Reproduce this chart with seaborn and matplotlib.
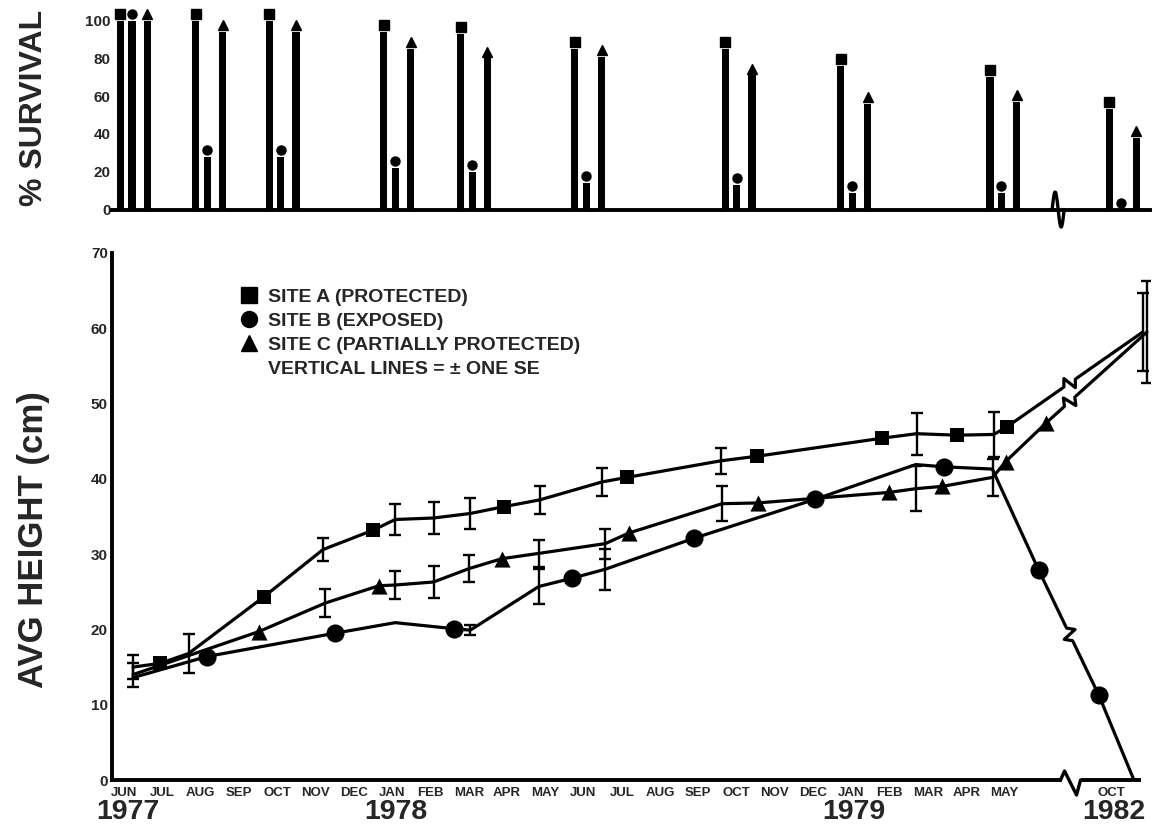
import numpy as np
import matplotlib
matplotlib.use("Agg")
import matplotlib.pyplot as plt
import matplotlib.transforms as mtransforms
from matplotlib.lines import Line2D
import seaborn as sns

# x is in months counted from 1 June 1977; the axis is broken after May 1979
month_names = ["JUN", "JUL", "AUG", "SEP", "OCT", "NOV", "DEC", "JAN", "FEB", "MAR", "APR", "MAY",
               "JUN", "JUL", "AUG", "SEP", "OCT", "NOV", "DEC", "JAN", "FEB", "MAR", "APR", "MAY",
               "OCT"]
month_pos = list(np.arange(24) + 0.5) + [26.3]
year_names = ["1977", "1978", "1979", "1982"]
year_pos = [0.6, 7.6, 19.55, 26.35]

# % survival (top panel)
surv_month = [0.70, 2.67, 4.59, 7.58, 9.59, 12.57, 16.50, 19.52, 23.42, 26.54]
surv_a = [100, 100, 100, 94, 93, 85, 85, 76, 70, 53]
surv_b = [100, 28, 28, 22, 20, 14, 13, 9, 9, 0]
surv_c = [100, 94, 94, 85, 80, 81, 71, 56, 57, 38]

# avg height (cm); marker = 1 where a symbol is drawn, se = 0 where no error bar
a_month = [0.73, 1.44, 2.18, 4.14, 5.69, 7.01, 7.58, 8.58, 9.54, 10.41, 11.35, 12.99, 13.64,
           16.09, 17.03, 20.30, 21.20, 22.25, 23.22, 23.56, 27.11]
a_height = [15.0, 15.5, 16.8, 24.3, 30.6, 33.2, 34.6, 34.8, 35.4, 36.3, 37.2, 39.6, 40.2,
            42.4, 43.0, 45.4, 46.0, 45.8, 45.9, 46.9, 59.5]
a_se = [1.6, 0, 2.6, 0, 1.5, 0, 2.0, 2.1, 2.0, 0, 1.9, 1.9, 0, 1.7, 0, 0, 2.8, 0, 3.0, 0, 5.2]
a_marker = [0, 1, 0, 1, 0, 1, 0, 0, 0, 1, 0, 0, 1, 0, 1, 1, 0, 1, 0, 1, 0]

b_month = [0.73, 2.66, 6.01, 7.58, 9.11, 9.54, 11.33, 12.20, 13.07, 15.38, 18.56, 21.18,
           21.91, 23.18, 24.39, 25.96, 26.88]
b_height = [13.6, 16.4, 19.5, 20.9, 20.1, 19.9, 25.7, 26.8, 28.0, 32.1, 37.3, 41.9,
            41.6, 41.3, 27.9, 11.3, 0.0]
b_se = [0, 0, 0, 0, 0, 0.7, 2.3, 0, 2.7, 0, 0, 0, 0, 0, 0, 0, 0]
b_marker = [0, 1, 1, 0, 1, 0, 0, 1, 0, 1, 1, 0, 1, 0, 1, 1, 0]

c_month = [0.73, 4.01, 5.75, 7.15, 7.58, 8.58, 9.52, 10.37, 11.33, 13.07, 13.68, 16.12,
           17.05, 20.48, 21.19, 21.87, 23.19, 23.53, 24.58, 27.22]
c_height = [14.0, 19.7, 23.5, 25.8, 25.9, 26.3, 28.1, 29.4, 30.1, 31.4, 32.8, 36.7,
            36.8, 38.2, 38.7, 39.0, 40.2, 42.3, 47.4, 59.5]
c_se = [1.6, 0, 1.9, 0, 1.8, 2.1, 1.8, 0, 1.8, 2.0, 0, 2.3, 0, 0, 3.0, 0, 2.5, 0, 0, 6.8]
c_marker = [0, 1, 0, 1, 0, 0, 0, 1, 0, 0, 1, 0, 1, 1, 0, 1, 0, 1, 1, 0]

break_month = 25.2
top_break_month = 24.9

sns.set_style("white")
plt.rcParams["font.family"] = ["Liberation Sans", "DejaVu Sans"]

W, H = 1163, 832
fig = plt.figure(figsize=(W / 100, H / 100), dpi=100)
x0, x1 = 0.18, 27.3
left, width = 112 / W, 1038 / W
ax = fig.add_axes([left, 1 - 780 / H, width, 527 / H])
axt = fig.add_axes([left, 1 - 209.5 / H, width, 108 * 1.888 / H])
ax.set_xlim(x0, x1)
ax.set_ylim(0, 70)
axt.set_xlim(x0, x1)
axt.set_ylim(0, 108)
ident = mtransforms.IdentityTransform()

# ---- bottom panel: heights
sites = [(a_month, a_height, a_se, a_marker, "s", 110),
         (b_month, b_height, b_se, b_marker, "o", 170),
         (c_month, c_height, c_se, c_marker, "^", 135)]
for mx, hy, se, mk, m, s in sites:
    mx, hy, se = np.array(mx), np.array(hy), np.array(se)
    mk = np.array(mk, bool)
    sns.lineplot(x=mx, y=hy, ax=ax, color="k", lw=2.3, estimator=None, sort=False, legend=False)
    sns.scatterplot(x=mx[mk], y=hy[mk], ax=ax, marker=m, s=s, color="k", edgecolor="k",
                    linewidth=0, zorder=4, legend=False)
    e = se > 0
    ax.errorbar(mx[e], hy[e], yerr=se[e], fmt="none", ecolor="k", elinewidth=1.7,
                capsize=4, capthick=1.7, zorder=3)
    # zigzag where the line crosses the time break
    yb = np.interp(break_month, mx, hy)
    y2 = np.interp(break_month + 0.3, mx, hy)
    p = ax.transData.transform([(break_month, yb), (break_month + 0.3, y2)])
    c = p[0]
    u = (p[1] - p[0]) / np.hypot(*(p[1] - p[0]))
    n = np.array([-u[1], u[0]])
    g, h = 7, 7
    wl = np.array([c - u * (g + 1), c + u * (g + 1)])
    zz = np.array([c - u * g, c - u * g * 0.3 + n * h, c + u * g * 0.3 - n * h, c + u * g])
    ax.plot(wl[:, 0], wl[:, 1], color="white", lw=5, transform=ident, zorder=5,
            solid_capstyle="butt", clip_on=False)
    ax.plot(zz[:, 0], zz[:, 1], color="k", lw=2.3, transform=ident, zorder=6, clip_on=False)

for s in ["top", "right"]:
    ax.spines[s].set_visible(False)
for s in ["left", "bottom"]:
    ax.spines[s].set_linewidth(2.8)
    ax.spines[s].set_color("k")
ax.spines["bottom"].set_bounds(x0, 27.0)

ax.set_yticks(range(0, 71, 10))
ax.set_yticklabels([str(v) for v in range(0, 71, 10)], fontsize=11, fontweight="bold")
ax.set_yticks(range(5, 70, 10), minor=True)
ax.tick_params(axis="y", which="both", direction="in", length=9.5, width=1.6, pad=3, color="k")
ax.set_xticks(month_pos)
ax.set_xticklabels(month_names, fontsize=9.5, fontweight="bold")
ax.set_xticks(np.arange(1, 25), minor=True)
ax.tick_params(axis="x", which="major", length=0, pad=5)
ax.tick_params(axis="x", which="minor", direction="in", length=10.5, width=1.6, color="k")
for name, xp in zip(year_names, year_pos):
    ax.text(xp, -0.061, name, transform=ax.get_xaxis_transform(), ha="center", va="center",
            fontsize=20.5, fontweight="bold")

# break on the x axis
c = ax.transData.transform((break_month + 0.05, 0))
ax.plot([c[0] - 10, c[0] + 9], [c[1], c[1]], color="white", lw=4.5, transform=ident,
        zorder=5, clip_on=False, solid_capstyle="butt")
bx = [c[0] - 11, c[0] - 7, c[0] + 5, c[0] + 9]
by = [c[1], c[1] + 9, c[1] - 15, c[1]]
ax.plot(bx, by, color="k", lw=2.4, transform=ident, zorder=6, clip_on=False)

handles = [Line2D([], [], ls="", marker="s", ms=11, color="k"),
           Line2D([], [], ls="", marker="o", ms=11.5, color="k"),
           Line2D([], [], ls="", marker="^", ms=12, color="k"),
           Line2D([], [], ls="", marker="")]
labels = ["SITE A (PROTECTED)", "SITE B (EXPOSED)", "SITE C (PARTIALLY PROTECTED)",
          "VERTICAL LINES = ± ONE SE"]
ax.legend(handles, labels, loc="upper left", bbox_to_anchor=(239 / W, 1 - 288 / H),
          bbox_transform=fig.transFigure, frameon=False, borderpad=0, borderaxespad=0,
          handlelength=1.0, handletextpad=0.5, labelspacing=0.33,
          prop={"weight": "bold", "size": 14})

# ---- top panel: survival bars
offsets = [-0.3, 0.0, 0.4]
lift = axt.transData + mtransforms.ScaledTranslation(0, 5 / 72, fig.dpi_scale_trans)
for off, vals, m, ms in zip(offsets, [surv_a, surv_b, surv_c], ["s", "o", "^"], [7, 6.5, 6.5]):
    xs = np.array(surv_month) + off
    axt.bar(xs, vals, width=0.19, color="k", linewidth=0)
    axt.plot(xs, vals, ls="", marker=m, ms=ms, color="k", transform=lift, clip_on=False)

for s in ["top", "right", "left"]:
    axt.spines[s].set_visible(False)
axt.spines["bottom"].set_linewidth(2.8)
axt.spines["bottom"].set_color("k")
axt.set_xticks([])
axt.set_yticks(range(0, 101, 20))
axt.set_yticklabels([str(v) for v in range(0, 101, 20)], fontsize=11, fontweight="bold")
axt.tick_params(axis="y", length=0, pad=1)

c = axt.transData.transform((top_break_month, 0))
t = np.linspace(0, 2 * np.pi, 40)
axt.plot(c[0] - 6 + 12 * t / (2 * np.pi), c[1] + 17.5 * np.sin(t), color="k", lw=2.4,
         transform=ident, clip_on=False)

fig.text(34 / W, 1 - 108 / H, "% SURVIVAL", rotation=90, ha="center", va="center",
         fontsize=23, fontweight="bold")
fig.text(34 / W, 1 - 540 / H, "AVG HEIGHT (cm)", rotation=90, ha="center", va="center",
         fontsize=25, fontweight="bold")

ax.set_xlim(x0, x1)
ax.set_ylim(0, 70)
axt.set_xlim(x0, x1)
axt.set_ylim(0, 108)
fig.savefig("out.png", dpi=100)
